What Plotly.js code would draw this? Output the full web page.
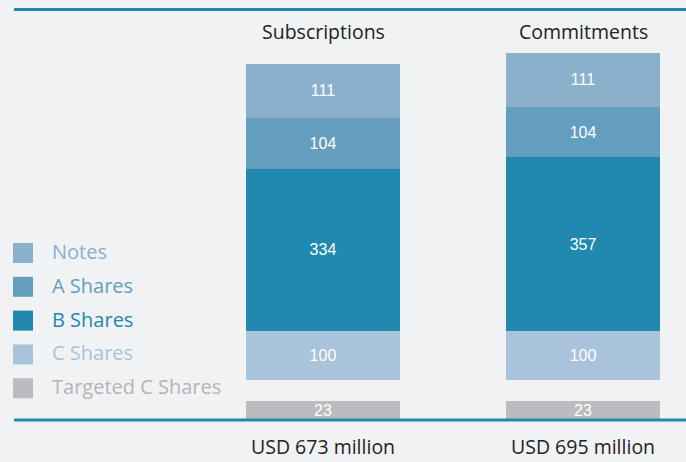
<!DOCTYPE html>
<html>
<head>
<meta charset="utf-8">
<script src="https://cdn.plot.ly/plotly-3.0.1.min.js"></script>
<style>html,body{margin:0;padding:0;background:#f1f2f4}</style>
</head>
<body>
<div id="grafica" style="width:686px;height:462px"></div>
<script>
// datos
const categorias = ["Subscriptions", "Commitments"];
const totales = [673, 695];
const notes = [111, 111];
const aShares = [104, 104];
const bShares = [334, 357];
const cShares = [100, 100];
const targetedC = [23, 23];
const nombres = ["Notes", "A Shares", "B Shares", "C Shares", "Targeted C Shares"];
const colores = ["#8ab0cb", "#649ebf", "#2188b0", "#a8c3da", "#bbbcc0"];
const coloresTexto = ["#8ab0cb", "#649ebf", "#2188b0", "#a8c3da", "#b3b4b8"];

const azul = "#2188b0";
const fondo = "#f1f2f4";
const anchoBarra = 0.592;
const fuente = "Open Sans, sans-serif";

function barra(valores, color, eje) {
  return {
    x: categorias,
    y: valores,
    type: "bar",
    yaxis: eje,
    width: anchoBarra,
    marker: { color: color },
    text: valores.map(String),
    textposition: "inside",
    insidetextanchor: "middle",
    textangle: 0,
    constraintext: "none",
    textfont: { family: "Liberation Sans, Arial, sans-serif", size: 16, color: "#ffffff" },
    hoverinfo: "skip",
    showlegend: false
  };
}

// de abajo hacia arriba
const data = [
  barra(cShares, colores[3], "y"),
  barra(bShares, colores[2], "y"),
  barra(aShares, colores[1], "y"),
  barra(notes, colores[0], "y"),
  barra(targetedC, colores[4], "y2")
];

const H = 462, W = 686;
const anotaciones = [];
const formas = [
  { type: "line", xref: "paper", yref: "paper", x0: 14 / W, x1: 1, y0: 1 - 9.5 / H, y1: 1 - 9.5 / H, line: { color: azul, width: 3 } },
  { type: "line", xref: "paper", yref: "paper", x0: 14 / W, x1: 1, y0: 1 - 420 / H, y1: 1 - 420 / H, line: { color: azul, width: 3 } }
];

categorias.forEach(function (cat, i) {
  anotaciones.push({
    x: cat, xref: "x", y: 1 - 32 / H, yref: "paper",
    text: cat, showarrow: false, yanchor: "middle",
    font: { family: fuente, size: 19.5, color: "#222222" }
  });
  anotaciones.push({
    x: cat, xref: "x", y: 0, yref: "paper",
    text: "USD " + totales[i] + " million", showarrow: false, yanchor: "bottom",
    font: { family: fuente, size: 19.5, color: "#222222" }
  });
});

// leyenda
nombres.forEach(function (nombre, i) {
  const yc = 253 + i * 33.8;
  formas.push({
    type: "rect", xref: "paper", yref: "paper",
    x0: 13 / W, x1: 33 / W, y0: 1 - (yc - 10) / H, y1: 1 - (yc + 10) / H,
    fillcolor: colores[i], line: { width: 0 }
  });
  anotaciones.push({
    x: 50 / W, xref: "paper", y: 1 - (yc - 1.5) / H, yref: "paper",
    text: nombre, showarrow: false, xanchor: "left", yanchor: "middle",
    font: { family: fuente, size: 20, color: coloresTexto[i] }
  });
});

const layout = {
  width: W,
  height: H,
  margin: { l: 0, r: 0, t: 0, b: 0 },
  paper_bgcolor: fondo,
  plot_bgcolor: fondo,
  barmode: "stack",
  bargap: 0,
  showlegend: false,
  xaxis: {
    type: "category",
    range: [-1.2423, 1.396],
    visible: false,
    fixedrange: true
  },
  yaxis: {
    domain: [1 - 380 / H, 1 - 40 / H],
    range: [0, 698.2],
    visible: false,
    fixedrange: true
  },
  yaxis2: {
    domain: [1 - 420 / H, 1 - 401 / H],
    range: [0, 23],
    visible: false,
    fixedrange: true
  },
  shapes: formas,
  annotations: anotaciones
};

Plotly.newPlot("grafica", data, layout, { displayModeBar: false, staticPlot: true });
</script>
</body>
</html>
